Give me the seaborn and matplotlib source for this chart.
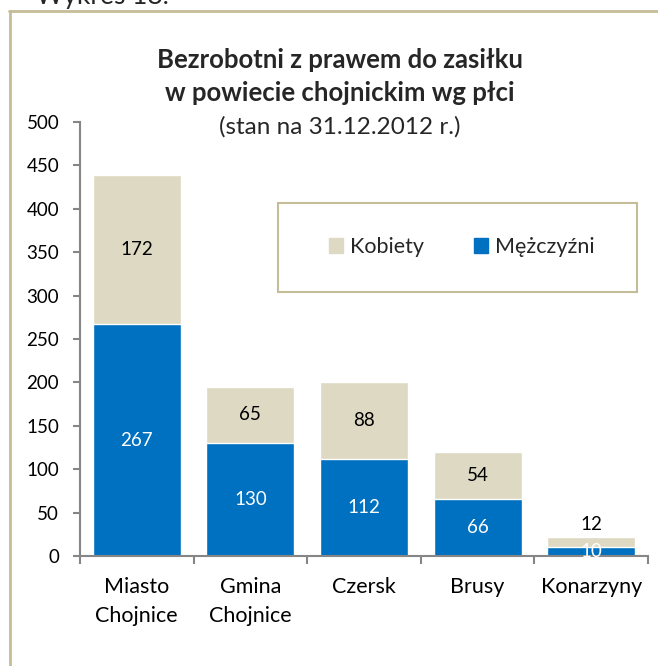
import matplotlib
matplotlib.use("Agg")
import matplotlib.pyplot as plt
import matplotlib.patches as mpatches
import matplotlib.lines as mlines
import seaborn as sns
import pandas as pd

categories = ["Miasto\nChojnice", "Gmina\nChojnice", "Czersk", "Brusy", "Konarzyny"]
mezczyzni = [267, 130, 112, 66, 10]
kobiety = [172, 65, 88, 54, 12]
yticks = [0, 50, 100, 150, 200, 250, 300, 350, 400, 450, 500]

BLUE = "#0070C0"
BEIGE = "#DDD9C3"
TAN = "#C4BD97"
AXC = "#868686"

sns.set_theme(style="white")
plt.rcParams["font.family"] = ["Lato", "DejaVu Sans"]

W, H = 658, 666
fig = plt.figure(figsize=(W / 100, H / 100), dpi=100)
ax = fig.add_axes([80 / W, 1 - 556 / H, 568 / W, (556 - 122) / H])

totals = [m + k for m, k in zip(mezczyzni, kobiety)]
df = pd.DataFrame({"cat": categories, "total": totals, "m": mezczyzni, "k": kobiety})

sns.barplot(data=df, x="cat", y="total", color=BEIGE, saturation=1, width=0.775, ax=ax)
sns.barplot(data=df, x="cat", y="m", color=BLUE, saturation=1, width=0.775, ax=ax)

ax.set_ylim(0, 500)
ax.set_xlim(-0.5, len(categories) - 0.5)
ax.set_yticks(yticks)
ax.set_xlabel("")
ax.set_ylabel("")

for s in ["top", "right"]:
    ax.spines[s].set_visible(False)
for s in ["left", "bottom"]:
    ax.spines[s].set_color(AXC)
    ax.spines[s].set_linewidth(1.5)

ax.tick_params(axis="y", which="both", left=True, length=5, width=1.5, color=AXC,
               direction="out", pad=10, labelsize=13.5, labelcolor="black")
ax.set_xticks([i - 0.5 for i in range(len(categories) + 1)], minor=True)
ax.set_xticks(range(len(categories)))
ax.set_xticklabels(categories, fontsize=15.5, linespacing=1.6, va="top")
ax.tick_params(axis="x", which="major", length=0, pad=15, labelcolor="black")
ax.tick_params(axis="x", which="minor", bottom=True, length=6, width=1.5, color=AXC, direction="out")

for i, (m, k) in enumerate(zip(mezczyzni, kobiety)):
    ax.text(i, m / 2, str(m), ha="center", va="center", color="white", fontsize=13.5)
    if k < 20:
        ax.annotate(str(k), (i, m + k), xytext=(0, 3), textcoords="offset points",
                    ha="center", va="bottom", color="black", fontsize=13.5)
    else:
        ax.text(i, m + k / 2, str(k), ha="center", va="center", color="black", fontsize=13.5)

# legend box
fig.patches.append(mpatches.Rectangle((278 / W, 1 - 292 / H), (637 - 278) / W, (292 - 203) / H,
                                      transform=fig.transFigure, facecolor="white",
                                      edgecolor=TAN, linewidth=1.5, zorder=5))
handles = [mpatches.Patch(color=BEIGE, label="Kobiety"),
           mpatches.Patch(color=BLUE, label="Mężczyźni")]
leg = fig.legend(handles=handles, loc="center", bbox_to_anchor=(462 / W, 1 - 247 / H),
                 ncol=2, frameon=False, fontsize=15.5, handlelength=0.65, handleheight=0.65,
                 handletextpad=0.3, columnspacing=2.35)
leg.set_zorder(6)

# titles
fig.text(340 / W, 1 - 60 / H, "Bezrobotni z prawem do zasiłku", ha="center", va="center",
         fontsize=18.5, fontweight="bold")
fig.text(340 / W, 1 - 93 / H, "w powiecie chojnickim wg płci", ha="center", va="center",
         fontsize=18.5, fontweight="bold")
fig.text(340 / W, 1 - 127 / H, "(stan na 31.12.2012 r.)", ha="center", va="center", fontsize=17.5)

# outer frame (cropped)
fig.add_artist(mlines.Line2D([9.5 / W, 9.5 / W], [0, 1 - 11 / H], transform=fig.transFigure,
                             color=TAN, linewidth=2))
fig.add_artist(mlines.Line2D([9 / W, 1], [1 - 11 / H, 1 - 11 / H], transform=fig.transFigure,
                             color=TAN, linewidth=2))

# cropped caption at the top
fig.text(36 / W, 1 - 4 / H, "Wykres 18.", ha="left", va="baseline", fontsize=19)

fig.savefig("out.png", dpi=100)
